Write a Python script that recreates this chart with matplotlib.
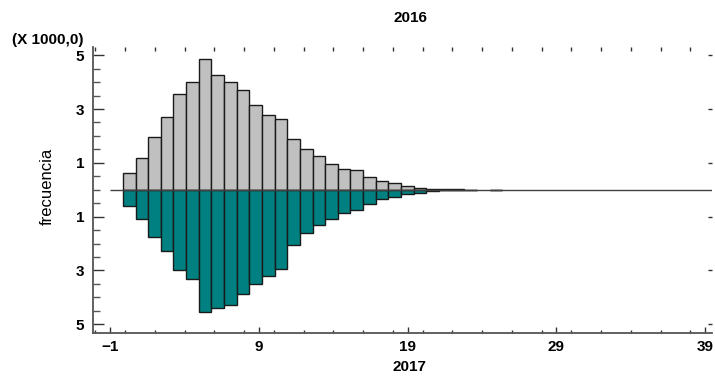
import numpy as np
import matplotlib
matplotlib.use('Agg')
import matplotlib.pyplot as plt
from matplotlib.ticker import FixedLocator, MultipleLocator, FuncFormatter

plt.rcParams['font.family'] = ['Liberation Sans', 'DejaVu Sans']

# ---- data: 40 classes of width 0.85 starting at -1 --------------------------
bin_start = -1.0
bin_width = 0.85
freq_2016 = [0, 630, 1180, 1960, 2690, 3550, 4020, 4870, 4260, 4020,
             3700, 3160, 2780, 2640, 1870, 1520, 1240, 945, 770, 730,
             460, 310, 235, 140, 75, 40, 12, 10, 8, 0,
             6, 0, 0, 0, 0, 0, 0, 0, 0, 0]
freq_2017 = [0, 620, 1090, 1750, 2290, 2985, 3330, 4535, 4400, 4285,
             3880, 3520, 3210, 2950, 2055, 1610, 1300, 1100, 855, 755,
             545, 345, 270, 160, 120, 60, 12, 10, 8, 0,
             6, 0, 0, 0, 0, 0, 0, 0, 0, 0]
x_ticks = [-1, 9, 19, 29, 39]
y_ticks = [-5000, -3000, -1000, 1000, 3000, 5000]

# ---- figure ------------------------------------------------------------------
fig = plt.figure(figsize=(7.15, 3.76), dpi=100)
ax = fig.add_axes([0.1297, 0.1152, 0.8662, 0.7590])

edges = bin_start + bin_width * np.arange(len(freq_2016))
up = np.array(freq_2016)
down = np.array(freq_2017)
ax.bar(edges[up > 0], up[up > 0], width=bin_width, align='edge', color='#c0c0c0',
       edgecolor='#1a1a1a', linewidth=1.0, zorder=2)
ax.bar(edges[down > 0], -down[down > 0], width=bin_width, align='edge', color='#008080',
       edgecolor='#1a1a1a', linewidth=1.0, zorder=2)
ax.hlines(0, -1, 39.46, color='#404040', linewidth=1.0, zorder=3)

ax.set_xlim(-2.18, 39.46)
ax.set_ylim(-5315, 5295)

ax.xaxis.set_major_locator(FixedLocator(x_ticks))
ax.xaxis.set_minor_locator(MultipleLocator(2))
ax.yaxis.set_major_locator(FixedLocator(y_ticks))
ax.yaxis.set_minor_locator(MultipleLocator(500))
ax.yaxis.set_major_formatter(FuncFormatter(lambda v, p: f'{abs(v) / 1000:g}'))

for side in ['top', 'right']:
    ax.spines[side].set_visible(False)
for side in ['left', 'bottom']:
    ax.spines[side].set_color('#555555')
    ax.spines[side].set_linewidth(1.3)

ax.tick_params(axis='x', which='major', direction='in', length=4, width=1,
               color='#333333', pad=5, labelsize=11)
ax.tick_params(axis='x', which='minor', direction='in', length=2, width=1, color='#333333')
ax.tick_params(axis='y', which='major', direction='in', length=8, width=1,
               color='#333333', pad=6, labelsize=11)
ax.tick_params(axis='y', which='minor', direction='in', length=5, width=1, color='#555555')
for lab in ax.get_xticklabels() + ax.get_yticklabels():
    lab.set_fontweight('bold')

# tick marks without axis lines on the top and right side
top = ax.secondary_xaxis('top')
top.xaxis.set_major_locator(MultipleLocator(2))
top.tick_params(direction='in', length=3, width=1, color='#333333', labeltop=False)
top.spines['top'].set_visible(False)
right = ax.secondary_yaxis('right')
right.yaxis.set_major_locator(FixedLocator(y_ticks))
right.tick_params(direction='in', length=3, width=1, color='#333333', labelright=False)
right.spines['right'].set_visible(False)

fig.text(410 / 715, 1 - 18 / 376, '2016', ha='center', va='center',
         fontsize=11, fontweight='bold')
fig.text(409 / 715, 1 - 367 / 376, '2017', ha='center', va='center',
         fontsize=11, fontweight='bold')
fig.text(84 / 715, 1 - 40 / 376, '(X 1000,0)', ha='right', va='center',
         fontsize=11, fontweight='bold')
fig.text(47 / 715, 1 - 186 / 376, 'frecuencia', ha='center', va='center',
         rotation=90, fontsize=12)

fig.savefig('out.png', dpi=100)
